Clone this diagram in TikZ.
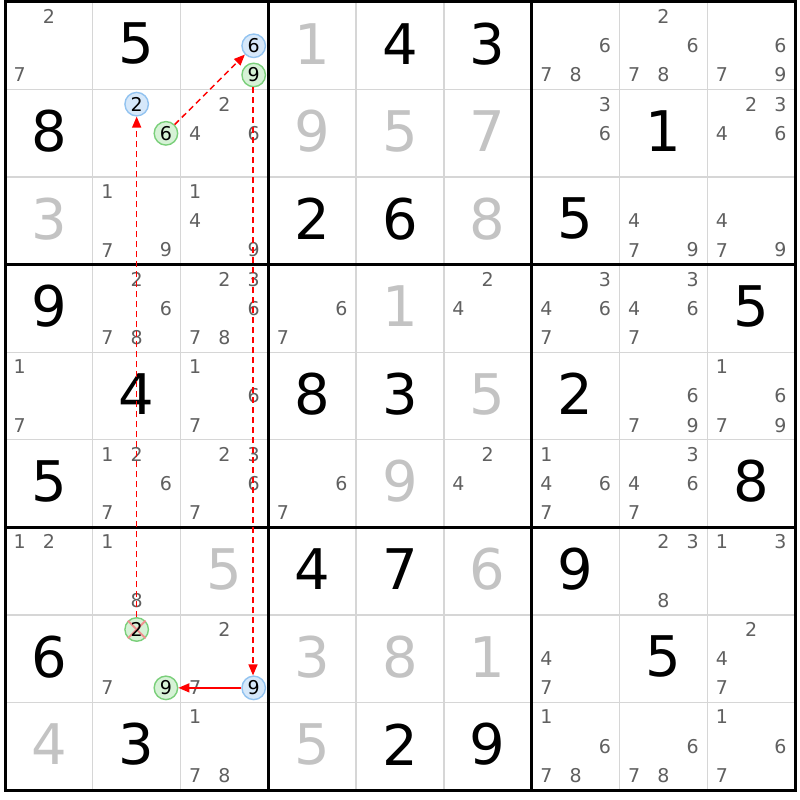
\documentclass[tikz,border=0pt]{standalone}
\usepackage{fontspec}
\setmainfont{DejaVu Sans}
\usepackage{tikz}
\usetikzlibrary{arrows.meta}

\definecolor{candgray}{HTML}{606060}
\definecolor{solvedgray}{HTML}{C3C3C3}
\definecolor{thingray}{HTML}{D6D6D6}
\definecolor{bluefill}{HTML}{D6E8FA}
\definecolor{blueline}{HTML}{92C3F0}
\definecolor{greenfill}{HTML}{D6F2D6}
\definecolor{greenline}{HTML}{7ACF7A}
\definecolor{linkred}{HTML}{FF0000}
\definecolor{crossred}{HTML}{F09090}

\tikzset{
	clue/.style={inner sep=0pt, yshift=2pt, font=\fontsize{56}{60}\selectfont},
	solved/.style={clue, text=solvedgray},
	cand/.style={inner sep=0pt, text=candgray, font=\fontsize{19}{21}\selectfont},
	pickbase/.style={circle, inner sep=0pt, minimum size=23.5pt, line width=1.4pt, font=\fontsize{19}{21}\selectfont},
	pickblue/.style={pickbase, draw=blueline, fill=bluefill},
	pickgreen/.style={pickbase, draw=greenline, fill=greenfill},
	crossline/.style={draw=crossred, line width=2pt},
	link/.style={color=linkred, line width=1.5pt, -{Triangle[length=11pt,width=9pt]}},
	weaklink/.style={link, dash pattern=on 6pt off 4pt},
}

% cell digits
\newcommand{\clue}[3]{\node[clue] (r#1c#2) at ({#2-0.5},{#1-0.5}) {#3};}
\newcommand{\solved}[3]{\node[solved] (r#1c#2) at ({#2-0.5},{#1-0.5}) {#3};}
\newcommand{\cands}[3]{%
	\foreach \dg in {#3}{%
		\pgfmathsetmacro{\cx}{#2-1+(mod(\dg-1,3)+0.5)/3}%
		\pgfmathsetmacro{\cy}{#1-1+(floor((\dg-1)/3)+0.5)/3}%
		\node[cand] (r#1c#2d\dg) at (\cx,\cy) {\dg};
	}%
}
\newcommand{\pick}[5]{%
	\pgfmathsetmacro{\cx}{#3-1+(mod(#4-1,3)+0.5)/3}%
	\pgfmathsetmacro{\cy}{#2-1+(floor((#4-1)/3)+0.5)/3}%
	\node[#1] (r#2c#3d#4) at (\cx,\cy) {#5};
}

\begin{document}
\begin{tikzpicture}[x=87.78pt, y=-87.56pt]
	\useasboundingbox[fill=white] (-0.057, -0.0228) rectangle (9.057, 9.114);
	
	% grid
	\foreach \i in {1,2,4,5,7,8} {
		\draw[thingray, line width=1.3pt] (\i, 0) -- (\i, 9);
		\draw[thingray, line width=1.3pt] (0, \i) -- (9, \i);
	}
	\foreach \i in {3,6} {
		\draw[line width=2.6pt] (\i, 0) -- (\i, 9);
		\draw[line width=2.6pt] (0, \i) -- (9, \i);
	}
	\draw[line width=3pt] (0, 0) rectangle (9, 9);
	
	% row 1
	\cands{1}{1}{2,7}
	\clue{1}{2}{5}
	\pick{pickblue}{1}{3}{6}{6}
	\pick{pickgreen}{1}{3}{9}{9}
	\solved{1}{4}{1}
	\clue{1}{5}{4}
	\clue{1}{6}{3}
	\cands{1}{7}{6,7,8}
	\cands{1}{8}{2,6,7,8}
	\cands{1}{9}{6,7,9}
	
	% row 2
	\clue{2}{1}{8}
	\pick{pickblue}{2}{2}{2}{2}
	\pick{pickgreen}{2}{2}{6}{6}
	\cands{2}{3}{2,4,6}
	\solved{2}{4}{9}
	\solved{2}{5}{5}
	\solved{2}{6}{7}
	\cands{2}{7}{3,6}
	\clue{2}{8}{1}
	\cands{2}{9}{2,3,4,6}
	
	% row 3
	\solved{3}{1}{3}
	\cands{3}{2}{1,7,9}
	\cands{3}{3}{1,4,9}
	\clue{3}{4}{2}
	\clue{3}{5}{6}
	\solved{3}{6}{8}
	\clue{3}{7}{5}
	\cands{3}{8}{4,7,9}
	\cands{3}{9}{4,7,9}
	
	% row 4
	\clue{4}{1}{9}
	\cands{4}{2}{2,6,7,8}
	\cands{4}{3}{2,3,6,7,8}
	\cands{4}{4}{6,7}
	\solved{4}{5}{1}
	\cands{4}{6}{2,4}
	\cands{4}{7}{3,4,6,7}
	\cands{4}{8}{3,4,6,7}
	\clue{4}{9}{5}
	
	% row 5
	\cands{5}{1}{1,7}
	\clue{5}{2}{4}
	\cands{5}{3}{1,6,7}
	\clue{5}{4}{8}
	\clue{5}{5}{3}
	\solved{5}{6}{5}
	\clue{5}{7}{2}
	\cands{5}{8}{6,7,9}
	\cands{5}{9}{1,6,7,9}
	
	% row 6
	\clue{6}{1}{5}
	\cands{6}{2}{1,2,6,7}
	\cands{6}{3}{2,3,6,7}
	\cands{6}{4}{6,7}
	\solved{6}{5}{9}
	\cands{6}{6}{2,4}
	\cands{6}{7}{1,4,6,7}
	\cands{6}{8}{3,4,6,7}
	\clue{6}{9}{8}
	
	% row 7
	\cands{7}{1}{1,2}
	\cands{7}{2}{1,8}
	\solved{7}{3}{5}
	\clue{7}{4}{4}
	\clue{7}{5}{7}
	\solved{7}{6}{6}
	\clue{7}{7}{9}
	\cands{7}{8}{2,3,8}
	\cands{7}{9}{1,3}
	
	% row 8
	\clue{8}{1}{6}
	\pick{pickgreen}{8}{2}{2}{}
	\draw[crossline] (r8c2d2.135) -- (r8c2d2.-45);
	\draw[crossline] (r8c2d2.45) -- (r8c2d2.-135);
	\node[font=\fontsize{19}{21}\selectfont, inner sep=0pt] (r8c2d2txt) at (r8c2d2) {2};
	\cands{8}{2}{7}
	\pick{pickgreen}{8}{2}{9}{9}
	\cands{8}{3}{2,7}
	\pick{pickblue}{8}{3}{9}{9}
	\solved{8}{4}{3}
	\solved{8}{5}{8}
	\solved{8}{6}{1}
	\cands{8}{7}{4,7}
	\clue{8}{8}{5}
	\cands{8}{9}{2,4,7}
	
	% row 9
	\solved{9}{1}{4}
	\clue{9}{2}{3}
	\cands{9}{3}{1,7,8}
	\solved{9}{4}{5}
	\clue{9}{5}{2}
	\clue{9}{6}{9}
	\cands{9}{7}{1,6,7,8}
	\cands{9}{8}{6,7,8}
	\cands{9}{9}{1,6,7}
	
	% chain
	\begin{scope}[color=linkred]
		\draw[weaklink] (r8c2d2) -- (r2c2d2);
		\draw[weaklink] (r2c2d6) -- (r1c3d6);
		\draw[weaklink] ([xshift=-0.7pt]r1c3d9.south) -- ([xshift=-0.7pt]r8c3d9.north);
		\draw[link] (r8c3d9) -- (r8c2d9);
	\end{scope}
	
\end{tikzpicture}
\end{document}
